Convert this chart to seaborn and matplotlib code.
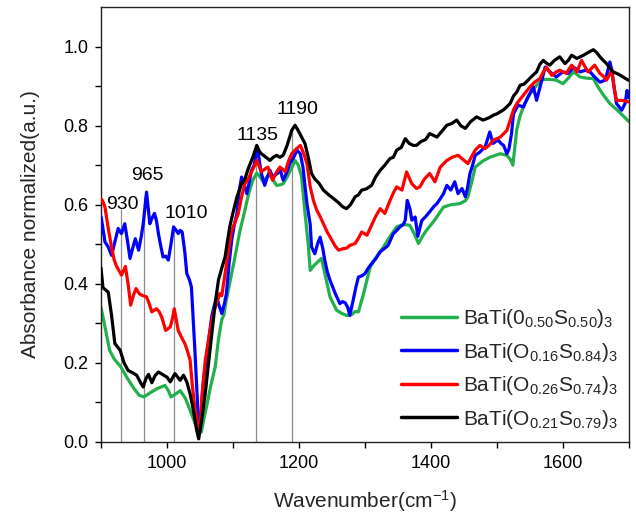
import numpy as np
import pandas as pd
import matplotlib
matplotlib.use("Agg")
import matplotlib.pyplot as plt
import seaborn as sns

# ---------------- data ----------------
green_x = [900, 905, 913, 920, 930, 940, 950, 958, 965, 975, 985, 997, 1002, 1006, 1012, 1020, 1028, 1035, 1042, 1047,
           1052, 1056, 1060, 1066, 1073, 1078, 1083, 1086, 1090, 1096, 1103, 1110, 1118, 1124, 1130, 1136, 1141, 1146,
           1151, 1156, 1161, 1166, 1171, 1176, 1182, 1188, 1194, 1199, 1204, 1209, 1214, 1217, 1222, 1228, 1234, 1240,
           1247, 1252, 1257, 1265, 1272, 1280, 1285, 1290, 1297, 1303, 1308, 1318, 1328, 1338, 1348, 1358, 1368, 1375,
           1381, 1387, 1393, 1405, 1419, 1430, 1444, 1452, 1456, 1462, 1467, 1478, 1489, 1505, 1515, 1520, 1524, 1530,
           1535, 1542, 1550, 1560, 1570, 1580, 1590, 1600, 1608, 1616, 1626, 1636, 1646, 1653, 1660, 1671, 1685, 1700]
green_y = [0.34, 0.30, 0.232, 0.21, 0.19, 0.161, 0.135, 0.118, 0.114, 0.125, 0.135, 0.143, 0.13, 0.114, 0.12, 0.13,
           0.11, 0.08, 0.05, 0.025, 0.025, 0.06, 0.09, 0.14, 0.19, 0.26, 0.31, 0.32, 0.36, 0.41, 0.468, 0.53, 0.586,
           0.63, 0.662, 0.68, 0.67, 0.658, 0.67, 0.675, 0.662, 0.649, 0.65, 0.653, 0.67, 0.69, 0.712, 0.70, 0.67, 0.58,
           0.50, 0.434, 0.445, 0.455, 0.464, 0.42, 0.367, 0.35, 0.333, 0.325, 0.32, 0.322, 0.33, 0.329, 0.37, 0.41,
           0.443, 0.47, 0.493, 0.52, 0.544, 0.55, 0.548, 0.525, 0.502, 0.52, 0.535, 0.56, 0.594, 0.60, 0.603, 0.61,
           0.62, 0.66, 0.695, 0.71, 0.72, 0.729, 0.725, 0.715, 0.70, 0.79, 0.825, 0.856, 0.88, 0.902, 0.917, 0.917,
           0.915, 0.906, 0.92, 0.936, 0.923, 0.92, 0.919, 0.898, 0.88, 0.856, 0.835, 0.81]

blue_x = [900, 901, 906, 911, 916, 921, 926, 931, 936, 940, 944, 948, 952, 957, 961, 964, 969, 974, 977, 981, 984, 987,
          990, 994, 998, 1002, 1006, 1010, 1014, 1017, 1020, 1023, 1027, 1030, 1034, 1037, 1040, 1042, 1047, 1050,
          1055, 1063, 1068, 1075, 1079, 1083, 1087, 1090, 1094, 1098, 1102, 1106, 1109, 1113, 1117, 1121, 1125, 1128,
          1132, 1137, 1140, 1143, 1148, 1152, 1156, 1160, 1164, 1168, 1171, 1176, 1181, 1186, 1192, 1197, 1202, 1206,
          1212, 1217, 1219, 1224, 1228, 1232, 1236, 1239, 1243, 1247, 1255, 1262, 1266, 1270, 1274, 1277, 1282, 1286,
          1290, 1295, 1300, 1305, 1310, 1317, 1323, 1330, 1335, 1343, 1348, 1353, 1358, 1361, 1364, 1368, 1371, 1376,
          1380, 1386, 1392, 1398, 1404, 1409, 1414, 1419, 1424, 1430, 1436, 1441, 1447, 1452, 1455, 1459, 1463, 1467,
          1474, 1478, 1482, 1489, 1494, 1498, 1502, 1506, 1510, 1515, 1518, 1522, 1525, 1532, 1540, 1547, 1551, 1555,
          1560, 1564, 1568, 1573, 1580, 1585, 1590, 1595, 1600, 1608, 1616, 1626, 1634, 1641, 1648, 1656, 1664, 1668,
          1671, 1674, 1676, 1681, 1689, 1694, 1697, 1700]
blue_y = [0.57, 0.561, 0.506, 0.493, 0.472, 0.506, 0.54, 0.527, 0.552, 0.51, 0.464, 0.49, 0.514, 0.485, 0.52, 0.552,
          0.632, 0.552, 0.565, 0.578, 0.56, 0.527, 0.50, 0.468, 0.47, 0.46, 0.50, 0.544, 0.535, 0.527, 0.535, 0.531,
          0.48, 0.426, 0.41, 0.392, 0.30, 0.24, 0.072, 0.03, 0.15, 0.257, 0.32, 0.367, 0.345, 0.325, 0.35, 0.375,
          0.45, 0.51, 0.55, 0.578, 0.63, 0.67, 0.65, 0.628, 0.66, 0.687, 0.70, 0.746, 0.71, 0.679, 0.649, 0.67, 0.687,
          0.67, 0.675, 0.68, 0.691, 0.662, 0.68, 0.704, 0.72, 0.738, 0.729, 0.695, 0.603, 0.55, 0.493, 0.476, 0.50,
          0.518, 0.49, 0.46, 0.43, 0.409, 0.375, 0.35, 0.355, 0.352, 0.34, 0.32, 0.358, 0.39, 0.417, 0.42, 0.426, 0.44,
          0.451, 0.465, 0.481, 0.49, 0.497, 0.527, 0.535, 0.544, 0.55, 0.561, 0.611, 0.59, 0.561, 0.569, 0.52, 0.56,
          0.57, 0.582, 0.595, 0.603, 0.615, 0.628, 0.649, 0.637, 0.658, 0.628, 0.641, 0.62, 0.64, 0.679, 0.70, 0.725,
          0.733, 0.74, 0.746, 0.784, 0.755, 0.76, 0.763, 0.755, 0.75, 0.729, 0.74, 0.78, 0.83, 0.852, 0.847, 0.873,
          0.885, 0.898, 0.864, 0.89, 0.915, 0.948, 0.936, 0.93, 0.923, 0.93, 0.936, 0.932, 0.948, 0.936, 0.94, 0.936,
          0.923, 0.91, 0.915, 0.94, 0.961, 0.94, 0.915, 0.856, 0.839, 0.856, 0.889, 0.87]

red_x = [900, 902, 906, 911, 916, 920, 924, 931, 937, 941, 945, 949, 953, 958, 962, 969, 973, 977, 984, 988, 992, 998,
         1005, 1008, 1011, 1014, 1017, 1022, 1027, 1031, 1035, 1038, 1042, 1047, 1050, 1053, 1058, 1064, 1070, 1075,
         1080, 1083, 1088, 1093, 1098, 1103, 1108, 1113, 1118, 1123, 1128, 1133, 1136, 1140, 1143, 1148, 1153, 1157,
         1160, 1165, 1171, 1175, 1179, 1184, 1189, 1195, 1202, 1207, 1212, 1217, 1222, 1227, 1232, 1237, 1243, 1250,
         1255, 1260, 1267, 1272, 1277, 1285, 1290, 1295, 1303, 1310, 1316, 1323, 1330, 1338, 1343, 1348, 1356, 1363,
         1367, 1371, 1378, 1383, 1390, 1398, 1406, 1414, 1424, 1432, 1441, 1448, 1456, 1461, 1467, 1474, 1482, 1488,
         1494, 1505, 1515, 1520, 1525, 1530, 1540, 1550, 1557, 1565, 1570, 1575, 1583, 1589, 1595, 1605, 1613, 1621,
         1628, 1633, 1638, 1648, 1656, 1661, 1666, 1674, 1677, 1681, 1691, 1699]
red_y = [0.615, 0.611, 0.594, 0.54, 0.493, 0.46, 0.443, 0.422, 0.444, 0.40, 0.346, 0.37, 0.388, 0.375, 0.371, 0.367,
         0.35, 0.329, 0.337, 0.33, 0.316, 0.282, 0.291, 0.31, 0.337, 0.31, 0.282, 0.265, 0.249, 0.23, 0.207, 0.15,
         0.089, 0.038, 0.03, 0.12, 0.207, 0.27, 0.325, 0.35, 0.375, 0.37, 0.426, 0.48, 0.535, 0.555, 0.578, 0.62,
         0.653, 0.665, 0.683, 0.70, 0.712, 0.695, 0.683, 0.69, 0.695, 0.675, 0.662, 0.68, 0.695, 0.69, 0.683, 0.71,
         0.729, 0.74, 0.75, 0.73, 0.704, 0.645, 0.61, 0.586, 0.57, 0.552, 0.53, 0.51, 0.495, 0.485, 0.489, 0.49,
         0.497, 0.502, 0.515, 0.531, 0.523, 0.548, 0.57, 0.59, 0.578, 0.611, 0.63, 0.645, 0.637, 0.683, 0.668, 0.653,
         0.641, 0.645, 0.665, 0.679, 0.658, 0.695, 0.712, 0.72, 0.725, 0.715, 0.704, 0.72, 0.738, 0.75, 0.742, 0.75,
         0.763, 0.771, 0.788, 0.814, 0.84, 0.856, 0.877, 0.898, 0.91, 0.919, 0.935, 0.948, 0.927, 0.935, 0.94, 0.932,
         0.953, 0.936, 0.965, 0.95, 0.936, 0.953, 0.932, 0.925, 0.915, 0.94, 0.9, 0.864, 0.864, 0.86]

black_x = [900, 903, 911, 916, 921, 929, 935, 941, 948, 954, 960, 964, 968, 972, 977, 982, 987, 994, 1000, 1005, 1012,
           1020, 1025, 1030, 1035, 1040, 1045, 1048, 1053, 1058, 1063, 1068, 1073, 1078, 1083, 1088, 1095, 1100, 1106,
           1113, 1118, 1123, 1130, 1136, 1140, 1143, 1150, 1156, 1161, 1166, 1171, 1176, 1182, 1189, 1194, 1198, 1204,
           1209, 1214, 1219, 1224, 1230, 1237, 1245, 1252, 1260, 1266, 1272, 1278, 1285, 1290, 1295, 1302, 1310, 1316,
           1323, 1330, 1338, 1343, 1348, 1355, 1361, 1367, 1373, 1378, 1385, 1392, 1398, 1404, 1409, 1416, 1424, 1431,
           1439, 1445, 1452, 1460, 1469, 1474, 1479, 1488, 1494, 1500, 1510, 1520, 1525, 1530, 1535, 1541, 1547, 1553,
           1560, 1565, 1570, 1575, 1580, 1587, 1595, 1603, 1608, 1613, 1621, 1631, 1638, 1646, 1651, 1656, 1661, 1666,
           1671, 1676, 1684, 1691, 1699]
black_y = [0.44, 0.39, 0.379, 0.32, 0.249, 0.232, 0.20, 0.181, 0.175, 0.169, 0.15, 0.139, 0.16, 0.171, 0.15, 0.168,
           0.177, 0.17, 0.164, 0.152, 0.173, 0.156, 0.169, 0.152, 0.122, 0.08, 0.03, 0.008, 0.06, 0.123, 0.20, 0.274,
           0.35, 0.41, 0.44, 0.468, 0.544, 0.58, 0.62, 0.653, 0.665, 0.691, 0.72, 0.75, 0.735, 0.729, 0.72, 0.712,
           0.72, 0.725, 0.72, 0.725, 0.75, 0.788, 0.801, 0.79, 0.771, 0.755, 0.72, 0.679, 0.665, 0.655, 0.637, 0.625,
           0.616, 0.605, 0.595, 0.59, 0.60, 0.62, 0.625, 0.637, 0.64, 0.649, 0.67, 0.687, 0.70, 0.717, 0.72, 0.738,
           0.745, 0.767, 0.755, 0.75, 0.75, 0.76, 0.765, 0.78, 0.775, 0.771, 0.785, 0.801, 0.805, 0.814, 0.80, 0.793,
           0.81, 0.822, 0.818, 0.814, 0.82, 0.826, 0.83, 0.84, 0.856, 0.875, 0.885, 0.902, 0.905, 0.915, 0.925, 0.936,
           0.955, 0.965, 0.958, 0.953, 0.965, 0.974, 0.957, 0.965, 0.978, 0.97, 0.978, 0.985, 0.992, 0.985, 0.974,
           0.965, 0.957, 0.945, 0.936, 0.93, 0.923, 0.915]

series_labels = [r"BaTi(0$_{0.50}$S$_{0.50}$)$_3$",
                 r"BaTi(O$_{0.16}$S$_{0.84}$)$_3$",
                 r"BaTi(O$_{0.26}$S$_{0.74}$)$_3$",
                 r"BaTi(O$_{0.21}$S$_{0.79}$)$_3$"]
series_colors = ["#22b04c", "#0000ff", "#ff0000", "#000000"]

peak_positions = [930, 965, 1010, 1135, 1190]
peak_line_tops = [0.59, 0.62, 0.54, 0.74, 0.80]
peak_labels = ["930", "965", "1010", "1135", "1190"]
peak_label_x = [932, 971, 1029, 1137, 1197]
peak_label_y = [0.60, 0.674, 0.578, 0.774, 0.84]

# ---------------- plot ----------------
sns.set_style("ticks")
plt.rcParams["font.family"] = ["Liberation Sans", "DejaVu Sans"]
plt.rcParams["mathtext.fontset"] = "custom"
plt.rcParams["mathtext.rm"] = "Liberation Sans"
plt.rcParams["mathtext.it"] = "Liberation Sans:italic"
plt.rcParams["mathtext.default"] = "regular"

fig = plt.figure(figsize=(6.36, 5.14), dpi=100)
ax = fig.add_axes([101 / 636, 1 - 442 / 514, (629 - 101) / 636, (442 - 7) / 514])

# annotation lines
ax.vlines(peak_positions, 0, peak_line_tops, colors="#8c8c8c", linewidth=0.9, zorder=1)

frames = []
for xs, ys, lab in [(green_x, green_y, series_labels[0]), (blue_x, blue_y, series_labels[1]),
                    (red_x, red_y, series_labels[2]), (black_x, black_y, series_labels[3])]:
    frames.append(pd.DataFrame({"Wavenumber": xs, "Absorbance": ys, "Sample": lab}))
df = pd.concat(frames, ignore_index=True)

for i, lab in enumerate(series_labels):
    sub = df[df["Sample"] == lab]
    sns.lineplot(data=sub, x="Wavenumber", y="Absorbance", color=series_colors[i], linewidth=2.3,
                 label=lab, sort=False, estimator=None, ax=ax, zorder=2 + i)

for px, py, t in zip(peak_label_x, peak_label_y, peak_labels):
    ax.text(px, py, t, ha="center", va="center", fontsize=14, color="black")

ax.set_xlim(900, 1700)
ax.set_ylim(0.0, 1.1)
ax.set_xticks([1000, 1200, 1400, 1600])
ax.set_xticks([900, 1100, 1300, 1500, 1700], minor=True)
ax.set_yticks([0.0, 0.2, 0.4, 0.6, 0.8, 1.0])
ax.set_yticks([0.1, 0.3, 0.5, 0.7, 0.9], minor=True)
ax.set_yticklabels(["0.0", "0.2", "0.4", "0.6", "0.8", "1.0"])
ax.tick_params(axis="both", which="both", direction="out", length=4, width=1, labelsize=13,
               top=False, right=False, colors="black")
ax.tick_params(axis="both", which="major", pad=5)
for s in ax.spines.values():
    s.set_visible(True)
    s.set_color("#222222")
    s.set_linewidth(1.0)

ax.set_xlabel(r"Wavenumber(cm$^{-1}$)", fontsize=15, labelpad=12)
ax.set_ylabel("Absorbance normalized(a.u.)", fontsize=15, labelpad=17)

leg = ax.legend(loc="lower right", frameon=False, fontsize=15, handlelength=2.7, handletextpad=0.25,
                labelspacing=0.5, borderaxespad=0.15, bbox_to_anchor=(1.0, 0.0))
for line in leg.get_lines():
    line.set_linewidth(2.5)

fig.savefig("out.png", dpi=100)
